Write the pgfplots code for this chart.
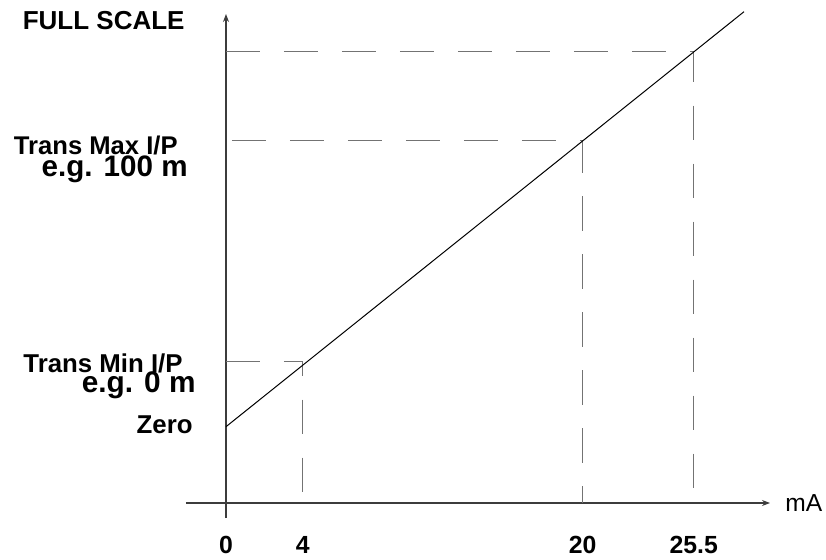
\documentclass[border=0pt]{standalone}
\usepackage{fontspec}
\setmainfont{Liberation Sans}
\usepackage{pgfplots}
\pgfplotsset{compat=1.18}
\usetikzlibrary{arrows.meta}

\definecolor{dashgray}{RGB}{115,115,115}
\definecolor{axisgray}{RGB}{60,60,60}

\begin{document}
\begin{tikzpicture}
\begin{axis}[
    x=0.5pt, y=0.5pt,
    axis lines=middle,
    xmin=-40, xmax=544,
    ymin=-15, ymax=489,
    axis line style={draw=axisgray, line width=0.6pt, -{Stealth[length=4pt,width=3pt]}},
    hide obscured x ticks=false,
    xtick={0,76.7,356.7,467.7},
    xticklabels={\textbf{0},\textbf{4},\textbf{20},\textbf{25.5}},
    xticklabel style={anchor=base, yshift=-25pt, font=\fontsize{12.4}{14}\selectfont},
    ytick=\empty,
    major tick length=0pt,
    clip=false,
]
% invisible frame that fixes the page size
\path (axis cs:-226,-56) rectangle (axis cs:600,503);

% reference levels (dashed)
\pgfplotsset{dashref/.style={draw=dashgray, line width=0.75pt, no marks}}
\addplot[dashref, dash pattern=on 17.25pt off 11.75pt] coordinates {(0,451.3) (467.7,451.3)};
\addplot[dashref, dash pattern=on 17.25pt off 11.75pt] coordinates {(6,362.3) (356.7,362.3)};
\addplot[dashref, dash pattern=on 17.25pt off 11.75pt] coordinates {(0,141.3) (76.7,141.3)};
\addplot[dashref, dash pattern=on 17.25pt off 11.75pt, dash phase=10pt] coordinates {(76.7,141.3) (76.7,0)};
\addplot[dashref, dash pattern=on 17.25pt off 11.75pt, dash phase=1.25pt] coordinates {(356.7,362.3) (356.7,0)};
\addplot[dashref, dash pattern=on 17.25pt off 11.75pt, dash phase=2pt] coordinates {(467.7,451.3) (467.7,0)};

% transfer line
\addplot[black, line width=0.5pt, no marks] coordinates {(0,76.3) (518,491.3)};

% labels
\node[anchor=base west, inner sep=0pt, font=\fontsize{12.3}{14}\selectfont] at (axis cs:559,-8.7) {mA};
\node[anchor=base east, inner sep=0pt, font=\bfseries\fontsize{13}{15}\selectfont] at (axis cs:-41,473) {FULL SCALE};
\node[anchor=base east, inner sep=0pt, font=\bfseries\fontsize{12.8}{15}\selectfont] at (axis cs:-48,349) {Trans Max I/P};
\node[anchor=base east, inner sep=0pt, font=\bfseries\fontsize{14.8}{17}\selectfont] at (axis cs:-38,326) {e.g. 100 m};
\node[anchor=base east, inner sep=0pt, font=\bfseries\fontsize{12.9}{15}\selectfont] at (axis cs:-43,131) {Trans Min I/P};
\node[anchor=base east, inner sep=0pt, font=\bfseries\fontsize{14.9}{17}\selectfont] at (axis cs:-30,111) {e.g. 0 m};
\node[anchor=base east, inner sep=0pt, font=\bfseries\fontsize{12.9}{15}\selectfont] at (axis cs:-33,70) {Zero};
\end{axis}
\end{tikzpicture}
\end{document}
